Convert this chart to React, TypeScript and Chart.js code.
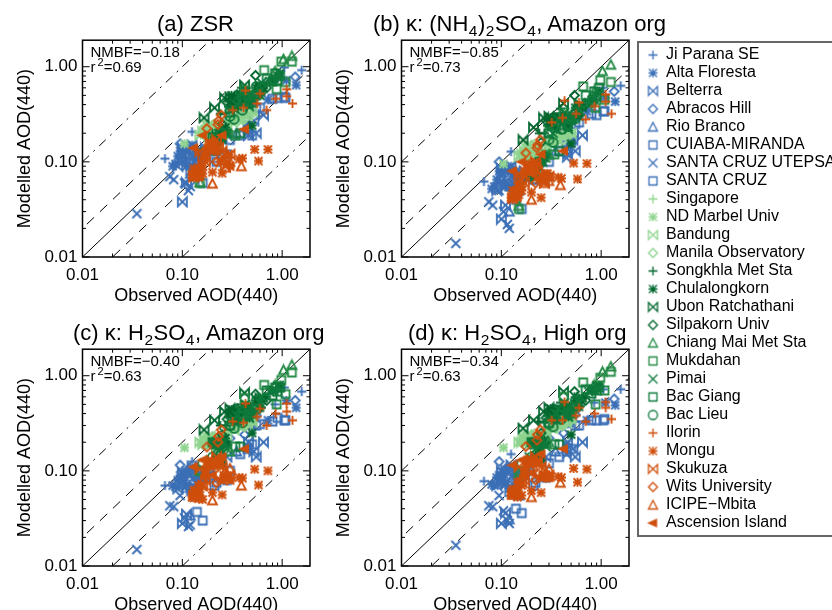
import { useEffect, useRef } from "react"
import Chart from "chart.js/auto"

const FONT = "'Liberation Sans', Arial, sans-serif"

const BLUE = "#3b6fb6"
const LIGHT = "#8fd48f"
const DARK = "#00662e"
const MID = "#238b45"
const TEAL = "#0e7a3c"
const ORANGE = "#cf4f0c"

const siteNames = [
  "Ji Parana SE", "Alta Floresta", "Belterra", "Abracos Hill", "Rio Branco", "CUIABA-MIRANDA",
  "SANTA CRUZ UTEPSA", "SANTA CRUZ", "Singapore", "ND Marbel Univ", "Bandung", "Manila Observatory",
  "Songkhla Met Sta", "Chulalongkorn", "Ubon Ratchathani", "Silpakorn Univ", "Chiang Mai Met Sta",
  "Mukdahan", "Pimai", "Bac Giang", "Bac Lieu", "Ilorin", "Mongu", "Skukuza", "Wits University",
  "ICIPE\u2212Mbita", "Ascension Island",
]

const siteMarkers = [
  "plus", "star", "bowtie", "diamond", "triangle", "square", "cross", "square",
  "plus", "star", "bowtie", "diamond",
  "plus", "star", "bowtie", "diamond", "triangle", "square", "cross", "square", "circle",
  "plus", "star", "bowtie", "diamond", "triangle", "left",
]

const siteColors = [
  BLUE, BLUE, BLUE, BLUE, BLUE, BLUE, BLUE, BLUE,
  LIGHT, LIGHT, LIGHT, LIGHT,
  DARK, DARK, DARK, DARK, MID, MID, TEAL, TEAL, TEAL,
  ORANGE, ORANGE, ORANGE, ORANGE, ORANGE, ORANGE,
]

// one row per site, same order as siteNames
const observed = [
  [0.067, 0.125, 0.1, 0.16, 0.45, 0.85, 1.05, 1.57, 0.09],
  [0.085, 0.09, 0.1, 0.12, 0.14, 0.5, 0.72, 1.38, 1.1, 0.45, 0.105, 0.115, 0.13, 0.095, 0.11, 0.08, 0.15, 0.125],
  [0.1, 0.11, 0.13, 0.17, 0.28, 0.46, 0.55, 0.65, 0.52, 0.14, 0.12, 0.09, 0.15, 0.1, 0.125, 0.16],
  [0.095, 0.12, 0.14, 0.19, 0.3, 0.55, 1.35, 0.42, 0.1, 0.13, 0.11, 0.16],
  [0.12, 0.15, 0.1, 0.2, 0.35, 0.25],
  [1.08, 0.9, 0.55, 0.38, 0.22, 0.12, 0.28, 0.17],
  [0.035, 0.075, 0.082, 0.095, 0.105, 0.115, 0.12, 0.14, 0.45, 0.1],
  [1.05, 0.8, 0.6, 0.45, 0.3, 0.21, 0.14, 0.16, 0.5],
  [0.16, 0.2, 0.24, 0.3, 0.42, 0.5, 0.17, 0.19, 0.21, 0.23, 0.37, 0.45, 0.28],
  [0.105, 0.18, 0.16, 0.22, 0.26, 0.33, 0.42, 0.17],
  [0.15, 0.17, 0.19, 0.22, 0.28, 0.36, 0.45, 0.5, 0.16, 0.18, 0.2, 0.21, 0.19, 0.17, 0.39, 0.33],
  [0.3, 0.35, 0.42, 0.5, 0.25, 0.2, 0.16],
  [0.24, 0.29, 0.32, 0.2, 0.45, 0.55, 0.7, 0.9, 0.39, 0.5, 0.62, 0.27, 0.36],
  [0.2, 0.22, 0.25, 0.3, 0.33, 0.37, 0.42, 0.48, 0.55, 0.65, 0.8, 0.95, 0.28, 0.5, 0.34, 0.38, 0.44, 0.5, 0.36, 0.41, 0.47, 0.31, 0.6, 0.24, 0.27, 0.22, 0.23],
  [0.165, 0.21, 0.265, 0.42, 0.6, 0.3],
  [0.54, 0.28, 0.35, 0.6, 0.7, 0.25],
  [1.25, 1.03, 0.15, 0.3, 0.5, 0.85],
  [1.25, 0.98, 0.66, 0.88, 1.08, 0.42, 0.34, 0.15],
  [0.22, 0.3, 0.35, 0.45, 0.6, 0.75, 0.9, 0.28, 0.19, 0.37, 0.43, 0.52, 0.33, 0.47, 0.62, 0.24, 0.26],
  [0.22, 0.38, 0.3, 0.7, 0.85, 0.95, 0.5, 0.2, 0.4, 0.46, 0.55, 0.24, 0.21, 0.8, 0.9],
  [0.16, 0.2, 0.3, 0.4, 0.33, 0.55, 0.25],
  [1.27, 1.11, 0.86, 0.43, 0.6, 0.32, 0.41, 0.56, 0.7, 1.11],
  [0.53, 0.72, 0.58, 0.4, 0.37, 0.25, 0.29, 0.2, 0.146, 0.21, 0.17, 0.125, 0.145, 0.19, 0.13, 0.14, 0.15, 0.16, 0.13, 0.18, 0.19, 0.2, 0.22, 0.24, 0.26, 0.16, 0.28, 0.17, 0.23, 0.14],
  [0.22, 0.2, 0.25, 0.14, 0.17, 0.3, 0.16, 0.19, 0.13, 0.27, 0.15, 0.23],
  [0.176, 0.227, 0.23, 0.245, 0.15, 0.22, 0.28],
  [0.2, 0.39, 0.27, 0.3, 0.146],
  [0.16, 0.13, 0.25, 0.42, 0.2, 0.3],
]

const modelZsr = [
  [0.108, 0.207, 0.13, 0.12, 0.46, 0.72, 0.98, 0.92, 0.1],
  [0.095, 0.115, 0.12, 0.09, 0.13, 0.44, 0.45, 0.64, 0.72, 0.25, 0.1, 0.13, 0.11, 0.13, 0.09, 0.09, 0.11, 0.15],
  [0.038, 0.06, 0.1, 0.14, 0.19, 0.19, 0.2, 0.31, 0.27, 0.075, 0.12, 0.09, 0.1, 0.14, 0.15, 0.125],
  [0.155, 0.1, 0.12, 0.14, 0.28, 0.5, 0.78, 0.32, 0.12, 0.085, 0.14, 0.11],
  [0.075, 0.085, 0.11, 0.13, 0.2, 0.18],
  [0.47, 0.47, 0.36, 0.19, 0.1, 0.08, 0.12, 0.13],
  [0.0285, 0.07, 0.065, 0.1, 0.06, 0.05, 0.055, 0.09, 0.2, 0.12],
  [0.48, 0.46, 0.37, 0.22, 0.17, 0.11, 0.08, 0.06, 0.19],
  [0.2, 0.21, 0.2, 0.25, 0.29, 0.32, 0.24, 0.2, 0.25, 0.19, 0.3, 0.36, 0.27],
  [0.155, 0.18, 0.2, 0.22, 0.19, 0.27, 0.33, 0.22],
  [0.19, 0.21, 0.22, 0.17, 0.22, 0.28, 0.3, 0.34, 0.21, 0.24, 0.19, 0.23, 0.25, 0.2, 0.33, 0.3],
  [0.27, 0.26, 0.28, 0.32, 0.22, 0.24, 0.2],
  [0.32, 0.38, 0.42, 0.2, 0.45, 0.55, 0.65, 0.75, 0.6, 0.48, 0.52, 0.32, 0.42],
  [0.15, 0.13, 0.17, 0.4, 0.46, 0.5, 0.44, 0.5, 0.6, 0.6, 0.72, 0.85, 0.2, 0.24, 0.42, 0.52, 0.55, 0.46, 0.38, 0.47, 0.4, 0.5, 0.5, 0.19, 0.23, 0.17, 0.2],
  [0.29, 0.37, 0.47, 0.64, 0.62, 0.48],
  [0.81, 0.42, 0.5, 0.62, 0.6, 0.25],
  [1.3, 1.2, 0.061, 0.2, 0.5, 0.9],
  [1.13, 1.13, 0.92, 0.58, 0.69, 0.57, 0.19, 0.06],
  [0.14, 0.35, 0.4, 0.45, 0.55, 0.7, 0.8, 0.2, 0.13, 0.5, 0.56, 0.48, 0.36, 0.38, 0.68, 0.18, 0.21],
  [0.15, 0.2, 0.33, 0.75, 0.85, 0.8, 0.42, 0.18, 0.45, 0.43, 0.5, 0.2, 0.17, 0.7, 0.72],
  [0.125, 0.14, 0.3, 0.35, 0.28, 0.62, 0.2],
  [0.41, 0.49, 0.46, 0.56, 0.52, 0.35, 0.37, 0.41, 0.35, 0.58],
  [0.135, 0.135, 0.102, 0.109, 0.107, 0.076, 0.12, 0.078, 0.087, 0.152, 0.11, 0.074, 0.069, 0.13, 0.068, 0.08, 0.07, 0.09, 0.085, 0.14, 0.16, 0.15, 0.135, 0.1, 0.11, 0.075, 0.095, 0.125, 0.14, 0.075],
  [0.17, 0.15, 0.13, 0.075, 0.1, 0.12, 0.11, 0.16, 0.07, 0.09, 0.13, 0.14],
  [0.224, 0.247, 0.27, 0.31, 0.085, 0.1, 0.11],
  [0.059, 0.09, 0.087, 0.1, 0.075],
  [0.19, 0.14, 0.19, 0.22, 0.13, 0.09],
]

const modelNh4Amazon = [
  [0.062, 0.128, 0.085, 0.07, 0.27, 0.42, 0.6, 0.63, 0.06],
  [0.055, 0.065, 0.075, 0.055, 0.08, 0.27, 0.34, 0.43, 0.47, 0.14, 0.06, 0.08, 0.07, 0.08, 0.055, 0.052, 0.07, 0.09],
  [0.025, 0.035, 0.06, 0.08, 0.12, 0.12, 0.13, 0.19, 0.17, 0.05, 0.075, 0.05, 0.06, 0.085, 0.09, 0.07],
  [0.1, 0.06, 0.075, 0.09, 0.17, 0.33, 0.55, 0.2, 0.07, 0.05, 0.085, 0.065],
  [0.03, 0.05, 0.065, 0.08, 0.13, 0.11],
  [0.34, 0.31, 0.25, 0.13, 0.065, 0.055, 0.07, 0.07],
  [0.0139, 0.038, 0.035, 0.05, 0.03, 0.022, 0.02, 0.055, 0.11, 0.06],
  [0.34, 0.32, 0.26, 0.15, 0.1, 0.065, 0.04, 0.032, 0.16],
  [0.11, 0.12, 0.13, 0.15, 0.19, 0.2, 0.13, 0.11, 0.14, 0.12, 0.19, 0.21, 0.16],
  [0.095, 0.105, 0.11, 0.13, 0.125, 0.16, 0.19, 0.12],
  [0.115, 0.13, 0.13, 0.11, 0.14, 0.17, 0.19, 0.2, 0.12, 0.14, 0.11, 0.13, 0.15, 0.115, 0.19, 0.17],
  [0.16, 0.16, 0.17, 0.2, 0.14, 0.15, 0.12],
  [0.2, 0.24, 0.26, 0.09, 0.3, 0.32, 0.4, 0.45, 0.36, 0.27, 0.31, 0.2, 0.26],
  [0.07, 0.075, 0.1, 0.25, 0.28, 0.3, 0.27, 0.3, 0.37, 0.37, 0.45, 0.55, 0.12, 0.155, 0.24, 0.3, 0.31, 0.27, 0.22, 0.26, 0.23, 0.29, 0.3, 0.09, 0.11, 0.08, 0.095],
  [0.17, 0.23, 0.29, 0.41, 0.4, 0.3],
  [0.5, 0.27, 0.28, 0.38, 0.4, 0.16],
  [1.05, 0.9, 0.0345, 0.12, 0.3, 0.55],
  [0.69, 0.72, 0.62, 0.37, 0.45, 0.33, 0.12, 0.032],
  [0.08, 0.22, 0.25, 0.28, 0.35, 0.42, 0.5, 0.11, 0.07, 0.28, 0.33, 0.28, 0.2, 0.22, 0.4, 0.085, 0.1],
  [0.08, 0.13, 0.2, 0.5, 0.55, 0.6, 0.28, 0.09, 0.25, 0.24, 0.29, 0.1, 0.085, 0.42, 0.48],
  [0.065, 0.07, 0.17, 0.22, 0.16, 0.33, 0.1],
  [0.32, 0.43, 0.385, 0.44, 0.42, 0.26, 0.29, 0.32, 0.28, 0.51],
  [0.097, 0.096, 0.066, 0.067, 0.069, 0.042, 0.075, 0.048, 0.06, 0.098, 0.074, 0.042, 0.042, 0.08, 0.04, 0.05, 0.045, 0.055, 0.05, 0.085, 0.09, 0.095, 0.085, 0.065, 0.07, 0.05, 0.075, 0.08, 0.095, 0.045],
  [0.1, 0.09, 0.07, 0.045, 0.06, 0.07, 0.065, 0.085, 0.042, 0.06, 0.075, 0.08],
  [0.124, 0.14, 0.15, 0.17, 0.05, 0.06, 0.065],
  [0.04, 0.057, 0.06, 0.063, 0.05],
  [0.1, 0.08, 0.12, 0.13, 0.075, 0.07],
]

const modelH2so4Amazon = [
  [0.07, 0.125, 0.1, 0.085, 0.33, 0.5, 0.75, 0.68, 0.08],
  [0.068, 0.08, 0.085, 0.06, 0.09, 0.3, 0.34, 0.46, 0.55, 0.18, 0.08, 0.095, 0.085, 0.09, 0.07, 0.07, 0.08, 0.105],
  [0.028, 0.035, 0.07, 0.09, 0.14, 0.2, 0.14, 0.2, 0.16, 0.055, 0.09, 0.065, 0.08, 0.095, 0.11, 0.09],
  [0.115, 0.065, 0.08, 0.1, 0.22, 0.38, 0.55, 0.24, 0.07, 0.06, 0.1, 0.085],
  [0.034, 0.055, 0.08, 0.09, 0.16, 0.13],
  [0.34, 0.36, 0.3, 0.15, 0.075, 0.065, 0.08, 0.085],
  [0.0149, 0.043, 0.042, 0.055, 0.032, 0.026, 0.027, 0.065, 0.17, 0.07],
  [0.34, 0.33, 0.31, 0.17, 0.1, 0.07, 0.037, 0.03, 0.19],
  [0.2, 0.21, 0.22, 0.27, 0.3, 0.33, 0.22, 0.19, 0.2, 0.23, 0.31, 0.35, 0.25],
  [0.175, 0.2, 0.21, 0.21, 0.22, 0.29, 0.33, 0.2],
  [0.2, 0.21, 0.22, 0.18, 0.23, 0.3, 0.31, 0.33, 0.19, 0.22, 0.2, 0.2, 0.23, 0.21, 0.31, 0.27],
  [0.28, 0.28, 0.29, 0.33, 0.22, 0.23, 0.19],
  [0.3, 0.37, 0.4, 0.13, 0.42, 0.5, 0.6, 0.7, 0.5, 0.42, 0.46, 0.3, 0.38],
  [0.2, 0.14, 0.12, 0.4, 0.42, 0.42, 0.4, 0.48, 0.55, 0.58, 0.7, 0.8, 0.19, 0.25, 0.36, 0.43, 0.45, 0.4, 0.33, 0.42, 0.36, 0.44, 0.46, 0.17, 0.22, 0.19, 0.2],
  [0.27, 0.34, 0.42, 0.66, 0.58, 0.45],
  [0.64, 0.35, 0.45, 0.55, 0.55, 0.24],
  [1.3, 1.15, 0.1, 0.16, 0.45, 0.8],
  [1.08, 0.9, 0.8, 0.5, 0.64, 0.58, 0.18, 0.1],
  [0.17, 0.33, 0.38, 0.42, 0.52, 0.68, 0.78, 0.17, 0.13, 0.44, 0.5, 0.43, 0.35, 0.36, 0.6, 0.17, 0.2],
  [0.2, 0.18, 0.3, 0.7, 0.75, 0.75, 0.4, 0.2, 0.38, 0.4, 0.45, 0.2, 0.19, 0.62, 0.68],
  [0.12, 0.14, 0.3, 0.32, 0.28, 0.55, 0.18],
  [0.34, 0.42, 0.4, 0.51, 0.45, 0.33, 0.32, 0.37, 0.3, 0.51],
  [0.104, 0.1, 0.071, 0.084, 0.085, 0.056, 0.082, 0.059, 0.07, 0.127, 0.089, 0.053, 0.051, 0.112, 0.052, 0.06, 0.055, 0.068, 0.062, 0.11, 0.12, 0.125, 0.115, 0.08, 0.09, 0.05, 0.085, 0.1, 0.12, 0.058],
  [0.14, 0.125, 0.11, 0.06, 0.08, 0.09, 0.07, 0.12, 0.055, 0.085, 0.105, 0.115],
  [0.178, 0.2, 0.23, 0.27, 0.07, 0.075, 0.08],
  [0.049, 0.07, 0.1, 0.106, 0.06],
  [0.13, 0.11, 0.14, 0.17, 0.09, 0.08],
]

const modelH2so4High = [
  [0.078, 0.15, 0.105, 0.09, 0.33, 0.52, 0.72, 0.72, 0.085],
  [0.07, 0.085, 0.09, 0.065, 0.095, 0.31, 0.34, 0.49, 0.52, 0.19, 0.085, 0.1, 0.09, 0.09, 0.072, 0.072, 0.085, 0.11],
  [0.028, 0.036, 0.072, 0.092, 0.14, 0.2, 0.14, 0.2, 0.17, 0.058, 0.095, 0.07, 0.08, 0.1, 0.115, 0.095],
  [0.125, 0.075, 0.085, 0.105, 0.22, 0.39, 0.57, 0.25, 0.075, 0.065, 0.105, 0.09],
  [0.031, 0.055, 0.085, 0.1, 0.16, 0.14],
  [0.35, 0.34, 0.3, 0.14, 0.075, 0.06, 0.085, 0.09],
  [0.0165, 0.043, 0.042, 0.055, 0.038, 0.03, 0.028, 0.065, 0.15, 0.075],
  [0.34, 0.34, 0.3, 0.16, 0.12, 0.07, 0.04, 0.036, 0.17],
  [0.2, 0.21, 0.22, 0.27, 0.3, 0.35, 0.22, 0.2, 0.2, 0.24, 0.31, 0.36, 0.26],
  [0.175, 0.2, 0.22, 0.22, 0.23, 0.29, 0.33, 0.21],
  [0.2, 0.21, 0.23, 0.19, 0.24, 0.3, 0.32, 0.35, 0.2, 0.23, 0.2, 0.21, 0.24, 0.22, 0.32, 0.28],
  [0.27, 0.28, 0.3, 0.34, 0.23, 0.24, 0.2],
  [0.33, 0.38, 0.42, 0.14, 0.42, 0.52, 0.6, 0.7, 0.52, 0.44, 0.48, 0.32, 0.4],
  [0.2, 0.145, 0.13, 0.38, 0.42, 0.45, 0.42, 0.48, 0.55, 0.58, 0.7, 0.8, 0.19, 0.24, 0.37, 0.44, 0.46, 0.41, 0.34, 0.43, 0.37, 0.45, 0.47, 0.17, 0.21, 0.2, 0.2],
  [0.28, 0.34, 0.42, 0.68, 0.58, 0.46],
  [0.68, 0.36, 0.44, 0.55, 0.55, 0.25],
  [1.25, 1.1, 0.095, 0.2, 0.45, 0.8],
  [1.1, 0.95, 0.85, 0.5, 0.7, 0.6, 0.19, 0.1],
  [0.17, 0.35, 0.4, 0.44, 0.52, 0.68, 0.78, 0.18, 0.14, 0.45, 0.52, 0.45, 0.36, 0.37, 0.6, 0.18, 0.2],
  [0.2, 0.19, 0.32, 0.72, 0.72, 0.75, 0.4, 0.2, 0.39, 0.41, 0.47, 0.2, 0.19, 0.65, 0.7],
  [0.12, 0.14, 0.31, 0.35, 0.29, 0.55, 0.19],
  [0.35, 0.46, 0.4, 0.53, 0.46, 0.34, 0.34, 0.38, 0.33, 0.53],
  [0.106, 0.104, 0.076, 0.085, 0.087, 0.059, 0.085, 0.062, 0.076, 0.13, 0.089, 0.055, 0.053, 0.12, 0.055, 0.062, 0.056, 0.07, 0.064, 0.11, 0.125, 0.13, 0.12, 0.085, 0.09, 0.055, 0.09, 0.1, 0.125, 0.06],
  [0.14, 0.13, 0.11, 0.06, 0.08, 0.09, 0.075, 0.125, 0.058, 0.088, 0.11, 0.12],
  [0.18, 0.21, 0.24, 0.27, 0.075, 0.08, 0.085],
  [0.053, 0.075, 0.104, 0.105, 0.062],
  [0.13, 0.115, 0.15, 0.17, 0.095, 0.085],
]

const tickValues = [
  0.01, 0.02, 0.03, 0.04, 0.05, 0.06, 0.07, 0.08, 0.09,
  0.1, 0.2, 0.3, 0.4, 0.5, 0.6, 0.7, 0.8, 0.9, 1,
]
const labelledTicks = [0.01, 0.1, 1]
const AXIS_MIN = 0.01
const AXIS_MAX = 1.9

// modelled = factor * observed
const refFactors = [1, 2, 0.5, 10, 0.1]
const refDashes = [[], [10, 8], [10, 8], [9, 6, 2, 6], [9, 6, 2, 6]]
const refEnds = [0.001, 20]

function makeMarker(kind: string, color: string, lineWidth: number) {
  const size = 13
  const c = document.createElement("canvas")
  c.width = size
  c.height = size
  const ctx = c.getContext("2d")!
  const m = size / 2
  const r = kind === "square" ? 4 : 4.5
  ctx.strokeStyle = color
  ctx.fillStyle = color
  ctx.lineWidth = lineWidth
  ctx.beginPath()
  if (kind === "plus") {
    ctx.moveTo(m - r, m); ctx.lineTo(m + r, m)
    ctx.moveTo(m, m - r); ctx.lineTo(m, m + r)
  } else if (kind === "cross") {
    ctx.moveTo(m - r, m - r); ctx.lineTo(m + r, m + r)
    ctx.moveTo(m + r, m - r); ctx.lineTo(m - r, m + r)
  } else if (kind === "star") {
    ctx.moveTo(m - r, m); ctx.lineTo(m + r, m)
    ctx.moveTo(m, m - r); ctx.lineTo(m, m + r)
    ctx.moveTo(m - r + 0.5, m - r + 0.5); ctx.lineTo(m + r - 0.5, m + r - 0.5)
    ctx.moveTo(m + r - 0.5, m - r + 0.5); ctx.lineTo(m - r + 0.5, m + r - 0.5)
  } else if (kind === "bowtie") {
    ctx.moveTo(m - r, m - r); ctx.lineTo(m + r, m + r); ctx.lineTo(m + r, m - r)
    ctx.lineTo(m - r, m + r); ctx.closePath()
  } else if (kind === "diamond") {
    ctx.moveTo(m, m - r); ctx.lineTo(m + r, m); ctx.lineTo(m, m + r); ctx.lineTo(m - r, m); ctx.closePath()
  } else if (kind === "triangle") {
    ctx.moveTo(m, m - r); ctx.lineTo(m + r, m + r - 0.5); ctx.lineTo(m - r, m + r - 0.5); ctx.closePath()
  } else if (kind === "square") {
    ctx.rect(m - r, m - r, 2 * r, 2 * r)
  } else if (kind === "circle") {
    ctx.arc(m, m, r, 0, Math.PI * 2)
  } else if (kind === "left") {
    ctx.moveTo(m - r, m); ctx.lineTo(m + r - 1, m - r + 1); ctx.lineTo(m + r - 1, m + r - 1); ctx.closePath()
    ctx.fill()
  }
  ctx.stroke()
  return c
}

// inward ticks on all four sides plus the closed frame
const framePlugin = {
  id: "frame",
  afterDatasetsDraw(chart: any) {
    const { ctx, chartArea: a, scales } = chart
    ctx.save()
    ctx.strokeStyle = "#000"
    ctx.lineWidth = 1
    ctx.beginPath()
    tickValues.forEach((v) => {
      const len = labelledTicks.includes(v) ? 7 : 3.5
      const px = scales.x.getPixelForValue(v)
      const py = scales.y.getPixelForValue(v)
      ctx.moveTo(px, a.bottom); ctx.lineTo(px, a.bottom - len)
      ctx.moveTo(px, a.top); ctx.lineTo(px, a.top + len)
      ctx.moveTo(a.left, py); ctx.lineTo(a.left + len, py)
      ctx.moveTo(a.right, py); ctx.lineTo(a.right - len, py)
    })
    ctx.stroke()
    ctx.lineWidth = 1.5
    ctx.strokeRect(a.left, a.top, a.right - a.left, a.bottom - a.top)
    ctx.restore()
  },
}

function axisOptions(label: string, isX: boolean) {
  return {
    type: "logarithmic",
    min: AXIS_MIN,
    max: AXIS_MAX,
    grid: { display: false, drawTicks: false },
    border: { display: false },
    afterBuildTicks: (scale: any) => {
      scale.ticks = tickValues.map((value) => ({ value }))
    },
    afterFit: (scale: any) => {
      if (isX) scale.height = 53
      else scale.width = 82.5
    },
    ticks: {
      color: "#000",
      autoSkip: false,
      maxRotation: 0,
      minRotation: 0,
      padding: isX ? 8 : 5,
      font: { family: FONT, size: 17 },
      callback: (v: any) => (labelledTicks.includes(Number(v)) ? Number(v).toFixed(2) : ""),
    },
    title: {
      display: true,
      text: label,
      color: "#000",
      font: { family: FONT, size: 18 },
      padding: isX ? { top: 0, bottom: 3 } : { top: 14, bottom: 0 },
    },
  }
}

function Panel({ left, top, titleLeft, title, nmbf, r2, model }: any) {
  const chartRef = useRef<HTMLCanvasElement>(null)

  useEffect(() => {
    if (!chartRef.current) return
    const marks = siteNames.map((name, i) => ({
      type: "scatter",
      label: name,
      data: observed[i].map((x, j) => ({ x, y: model[i][j] })),
      pointStyle: makeMarker(siteMarkers[i], siteColors[i], 1.8),
      showLine: false,
      order: siteNames.length - i,
    }))
    const lines = refFactors.map((f, i) => ({
      type: "line",
      label: "ref" + f,
      data: refEnds.map((x) => ({ x, y: f * x })),
      borderColor: "#000",
      borderWidth: 1,
      borderDash: refDashes[i],
      pointRadius: 0,
      order: 100,
    }))
    const chart = new Chart(chartRef.current, {
      type: "scatter",
      data: { datasets: [...marks, ...lines] } as any,
      options: {
        animation: false,
        responsive: false,
        layout: { autoPadding: false, padding: { top: 15, right: 10, left: 0, bottom: 0 } },
        plugins: { legend: { display: false }, tooltip: { enabled: false } },
        scales: {
          x: axisOptions("Observed AOD(440)", true),
          y: axisOptions("Modelled AOD(440)", false),
        },
      } as any,
      plugins: [framePlugin],
    })
    return () => chart.destroy()
  }, [model])

  const textStyle: any = { position: "absolute", fontFamily: FONT, color: "#000", whiteSpace: "nowrap" }
  return (
    <>
      <canvas
        ref={chartRef}
        width={320}
        height={285}
        style={{ position: "absolute", left, top: top - 15, width: 320, height: 285 }}
      />
      <div style={{ ...textStyle, left: titleLeft, top: top - 29, fontSize: 22, lineHeight: "26px" }}>{title}</div>
      <div style={{ ...textStyle, left: left + 90.5, top: top + 3, fontSize: 15, lineHeight: "18px" }}>
        NMBF={nmbf}
      </div>
      <div style={{ ...textStyle, left: left + 90.5, top: top + 18, fontSize: 15, lineHeight: "18px" }}>
        r<sup style={{ fontSize: 11, lineHeight: 0, marginLeft: 2 }}>2</sup>={r2}
      </div>
    </>
  )
}

function SiteLegend() {
  const chartRef = useRef<HTMLCanvasElement>(null)

  useEffect(() => {
    if (!chartRef.current) return
    const chart = new Chart(chartRef.current, {
      type: "scatter",
      data: {
        datasets: siteNames.map((name, i) => ({
          label: name,
          data: [],
          pointStyle: makeMarker(siteMarkers[i], siteColors[i], 1.3),
        })),
      } as any,
      options: {
        animation: false,
        responsive: false,
        scales: { x: { display: false }, y: { display: false } },
        plugins: {
          tooltip: { enabled: false },
          legend: {
            position: "left",
            align: "start",
            labels: {
              usePointStyle: true,
              pointStyleWidth: 10,
              boxHeight: 10,
              padding: 2,
              color: "#000",
              font: { family: FONT, size: 16 },
              generateLabels: (c: any) =>
                c.data.datasets.map((d: any, i: number) => ({
                  text: d.label,
                  pointStyle: d.pointStyle,
                  datasetIndex: i,
                  fontColor: "#000",
                  hidden: false,
                })),
            },
          },
        },
      } as any,
    })
    return () => chart.destroy()
  }, [])

  return (
    <div
      style={{
        position: "absolute",
        left: 637,
        top: 41,
        width: 300,
        height: 492,
        border: "2px solid #666",
        overflow: "hidden",
      }}
    >
      <canvas
        ref={chartRef}
        width={420}
        height={494}
        style={{ position: "absolute", left: 7, top: 2, width: 420, height: 494 }}
      />
    </div>
  )
}

const Sub = ({ children }: any) => <sub style={{ fontSize: 15.5, lineHeight: 0, margin: "0 0.5px" }}>{children}</sub>

export default function App() {
  return (
    <div style={{ position: "absolute", left: 0, top: 0, width: 832, height: 610, overflow: "hidden", background: "#fff" }}>
      <Panel left={0} top={40} titleLeft={157} title="(a) ZSR" nmbf="−0.18" r2="0.69" model={modelZsr} />
      <Panel
        left={319}
        top={40}
        titleLeft={373}
        title={<>(b) κ: (NH<Sub>4</Sub>)<Sub>2</Sub>SO<Sub>4</Sub>, Amazon org</>}
        nmbf="−0.85"
        r2="0.73"
        model={modelNh4Amazon}
      />
      <Panel
        left={0}
        top={349}
        titleLeft={73}
        title={<>(c) κ: H<Sub>2</Sub>SO<Sub>4</Sub>, Amazon org</>}
        nmbf="−0.40"
        r2="0.63"
        model={modelH2so4Amazon}
      />
      <Panel
        left={319}
        top={349}
        titleLeft={408}
        title={<>(d) κ: H<Sub>2</Sub>SO<Sub>4</Sub>, High org</>}
        nmbf="−0.34"
        r2="0.63"
        model={modelH2so4High}
      />
      <SiteLegend />
    </div>
  )
}
